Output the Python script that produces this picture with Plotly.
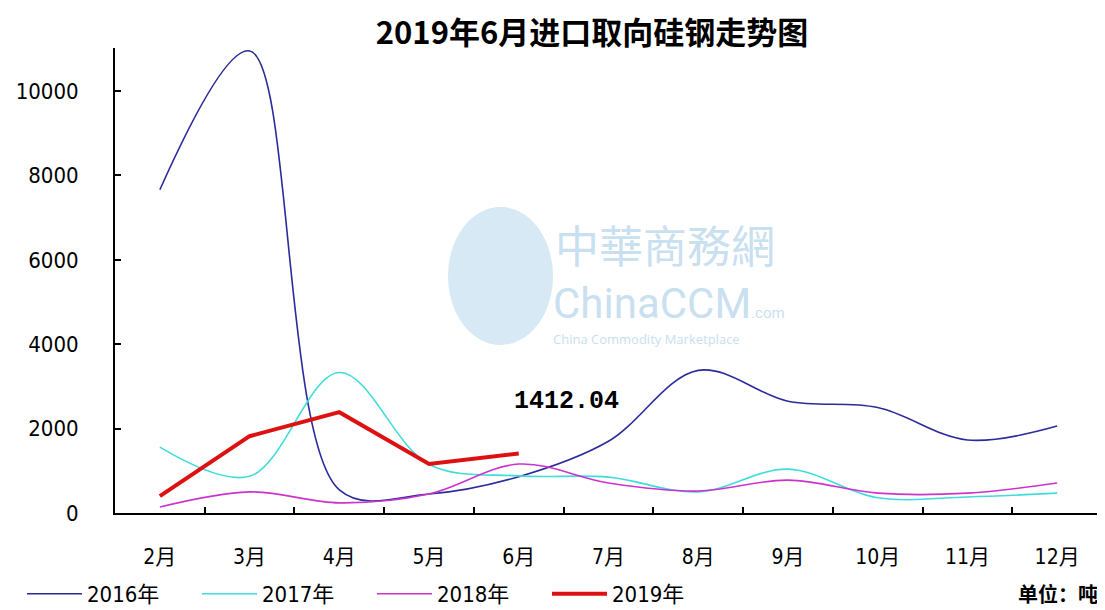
import plotly.graph_objects as go

months = ['2月', '3月', '4月', '5月', '6月', '7月', '8月', '9月', '10月', '11月', '12月']
y2016 = [7660, 10950, 550, 450, 860, 1700, 3380, 2650, 2500, 1730, 2060]
y2017 = [1560, 870, 3330, 1150, 880, 850, 500, 1040, 360, 380, 470]
y2018 = [140, 500, 240, 450, 1160, 710, 520, 780, 470, 470, 710]
y2019 = [400, 1820, 2390, 1160, 1412.04]
y_ticks = [0, 2000, 4000, 6000, 8000, 10000]

label_font = "DejaVu Sans Condensed, Liberation Sans Narrow, Noto Sans CJK SC, sans-serif"

# page is offset by the 8px body margin; figure sized to fit the window
W, H = 1097, 602
PL, PT, PR, PB = 107, 40, 1094, 505  # plot area in figure pixels
PW, PH = PR - PL, PB - PT


def px(xp):
    return (xp - 8 - PL) / PW


def py(yp):
    return (PB - (yp - 8)) / PH


fig = go.Figure()
fig.add_trace(go.Scatter(x=months, y=y2016, name='2016年', mode='lines',
                         line=dict(color='#2B2B99', width=1.6, shape='spline', smoothing=1)))
fig.add_trace(go.Scatter(x=months, y=y2017, name='2017年', mode='lines',
                         line=dict(color='#40DCDC', width=1.6, shape='spline', smoothing=1)))
fig.add_trace(go.Scatter(x=months, y=y2018, name='2018年', mode='lines',
                         line=dict(color='#CC33CC', width=1.6, shape='spline', smoothing=1)))
fig.add_trace(go.Scatter(x=months[:len(y2019)], y=y2019, name='2019年', mode='lines',
                         line=dict(color='#DD1111', width=4)))

# watermark
wm = '#C9E0F0'
fig.add_shape(type='circle', xref='paper', yref='paper',
              x0=px(448), x1=px(553), y0=py(345), y1=py(207),
              fillcolor='#D6E9F5', line=dict(width=0), layer='below')
fig.add_annotation(xref='paper', yref='paper', x=px(553), y=py(244),
                   xanchor='left', yanchor='middle', showarrow=False, text='中華商務網',
                   font=dict(family='Noto Sans CJK TC', size=44, color=wm))
fig.add_annotation(xref='paper', yref='paper', x=px(551), y=py(303),
                   xanchor='left', yanchor='middle', showarrow=False,
                   text='ChinaCCM<span style="font-size:15px">.com</span>',
                   font=dict(family='Liberation Sans Narrow, Roboto', size=42, color=wm))
fig.add_annotation(xref='paper', yref='paper', x=px(551), y=py(339),
                   xanchor='left', yanchor='middle', showarrow=False,
                   text='China Commodity Marketplace',
                   font=dict(family='Open Sans', size=13, color=wm))

# value label
fig.add_annotation(x='6月', y=y2019[-1], text=f'{y2019[-1]:.2f}', showarrow=False,
                   xshift=48, yshift=52,
                   font=dict(family='Liberation Mono, monospace', size=25, color='black', weight='bold'))
# unit label
fig.add_annotation(xref='paper', yref='paper', x=px(1100), y=py(593),
                   xanchor='right', yanchor='middle', showarrow=False, text='<b>单位：吨</b>',
                   font=dict(family='Noto Sans CJK SC', size=20, color='black'))

fig.update_layout(
    width=W, height=H,
    margin=dict(l=PL, r=W - PR, t=PT, b=H - PB, autoexpand=False),
    paper_bgcolor='white', plot_bgcolor='white',
    title=dict(text='<b>2019年6月进口取向硅钢走势图</b>', x=(592 - 8) / W, xanchor='center',
               y=1 - (33 - 8) / H, yanchor='middle',
               font=dict(family='Noto Sans CJK SC', size=31, color='black')),
    showlegend=True,
    legend=dict(orientation='h', x=px(22), xanchor='left', y=py(594), yanchor='middle',
                font=dict(family=label_font, size=22, color='black'),
                entrywidth=105, entrywidthmode='pixels', bgcolor='rgba(0,0,0,0)',
                itemwidth=55, tracegroupgap=0),
    xaxis=dict(type='category', showline=True, linecolor='black', linewidth=2,
               ticks='inside', ticklen=6, tickcolor='black', tickwidth=2,
               tickson='boundaries', showgrid=False, zeroline=False, automargin=False,
               range=[-0.5, 10.5], ticklabelstandoff=24,
               tickfont=dict(family=label_font, size=21, color='black')),
    yaxis=dict(range=[0, 11020], tickvals=y_ticks, ticktext=[str(v) for v in y_ticks],
               showline=True, linecolor='black', linewidth=2, automargin=False,
               ticks='inside', ticklen=6, tickcolor='black', tickwidth=2,
               showgrid=False, zeroline=False, ticklabelstandoff=30,
               tickfont=dict(family=label_font, size=22, color='black')),
)

fig.write_html('out.html')
